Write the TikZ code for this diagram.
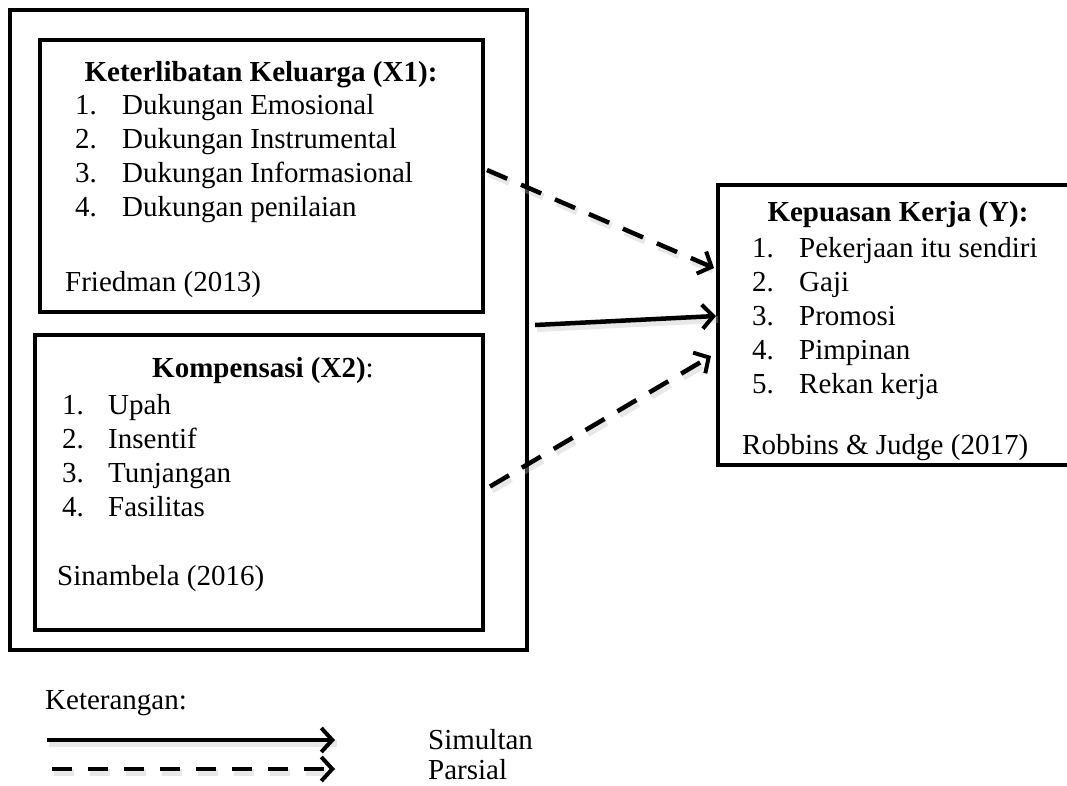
\documentclass[tikz,border=0pt]{standalone}
\usepackage{fontspec}
\setmainfont{Liberation Serif}
\usetikzlibrary{arrows.meta,calc}
\begin{document}
\begin{tikzpicture}[x=1pt,y=-1pt,
  box/.style={draw, line width=4pt, inner sep=0pt},
  txt/.style={inner sep=0pt, anchor=base west, font=\fontsize{29}{34}\selectfont},
  ttl/.style={inner sep=0pt, anchor=base, font=\fontsize{29}{34}\selectfont\bfseries},
  tip/.style={-{Straight Barb[length=11pt,width=24pt,line width=4pt]}},
  conn/.style={line width=4.5pt, tip},
  dashconn/.style={conn, dash pattern=on 22pt off 15pt},
  shadowline/.style={line width=7pt, draw=black!25, opacity=0.35}
]
\useasboundingbox (0,0) rectangle (1067,785);
\fill[white] (0,0) rectangle (1067,785);

% boxes
\node[box, minimum width=517pt, minimum height=640pt] (outer) at (268.5,330) {};
\node[box, minimum width=443pt, minimum height=272pt] (x1) at (261.5,176) {};
\node[box, minimum width=448pt, minimum height=295pt] (x2) at (259,482.5) {};
\node[box, minimum width=352pt, minimum height=280pt] (y) at (894,325) {};

% X1 text
\node[ttl] (x1t) at (261,81) {Keterlibatan Keluarga (X1):};
\foreach \t [count=\i] in {Dukungan Emosional, Dukungan Instrumental, Dukungan Informasional, Dukungan penilaian}{
  \node[txt] (x1n\i) at (75,{114+34.3*(\i-1)}) {\i.};
  \node[txt] (x1i\i) at (122,{114+34.3*(\i-1)}) {\t};
}
\node[txt] (x1s) at (65,291) {Friedman (2013)};

% X2 text
\node[ttl] (x2t) at (263,377) {Kompensasi (X2)\mdseries:};
\foreach \t [count=\i] in {Upah, Insentif, Tunjangan, Fasilitas}{
  \node[txt] (x2n\i) at (62,{414+34.3*(\i-1)}) {\i.};
  \node[txt] (x2i\i) at (108,{414+34.3*(\i-1)}) {\t};
}
\node[txt] (x2s) at (57,585) {Sinambela (2016)};

% Y text
\node[ttl] (yt) at (898,221) {Kepuasan Kerja (Y):};
\foreach \t [count=\i] in {Pekerjaan itu sendiri, Gaji, Promosi, Pimpinan, Rekan kerja}{
  \node[txt] (yn\i) at (752,{257+34.2*(\i-1)}) {\i.};
  \node[txt] (yi\i) at (799,{257+34.2*(\i-1)}) {\t};
}
\node[txt] (ys) at (742,454) {Robbins \& Judge (2017)};

% connector end points
\coordinate (a1s) at ($(x1.east)+(2,-6)$);
\coordinate (a1e) at ($(y.west)+(-2,-57)$);
\coordinate (a2s) at ($(outer.east)+(6,-5)$);
\coordinate (a2e) at ($(y.west)+(0,-9)$);
\coordinate (a3s) at ($(x2.east)+(5,4)$);
\coordinate (a3e) at ($(y.west)+(-5,31)$);

% shadows
\draw[shadowline, dash pattern=on 22pt off 15pt] ($(a1s)+(2,3.5)$) -- ($(a1e)+(2,3.5)$);
\draw[shadowline] ($(a2s)+(2,3.5)$) -- ($(a2e)+(2,3.5)$);
\draw[shadowline, dash pattern=on 22pt off 15pt] ($(a3s)+(2,3.5)$) -- ($(a3e)+(2,3.5)$);

% connectors
\draw[dashconn] (a1s) -- (a1e);
\draw[conn] (a2s) -- (a2e);
\draw[dashconn] (a3s) -- (a3e);

% legend
\node[txt] (ket) at (45,709) {Keterangan:};
\node[txt] (sim) at (428,749) {Simultan};
\node[txt] (par) at (428,779) {Parsial};
\coordinate (l1s) at (47,740);
\coordinate (l1e) at (335,740);
\coordinate (l2s) at (52,769);
\coordinate (l2e) at (335,769);
\draw[shadowline] ($(l1s)+(2,3.5)$) -- ($(l1e)+(2,3.5)$);
\draw[shadowline, dash pattern=on 20pt off 16pt] ($(l2s)+(2,3.5)$) -- ($(l2e)+(2,3.5)$);
\draw[conn] (l1s) -- (l1e);
\draw[conn, dash pattern=on 20pt off 16pt] (l2s) -- (l2e);
\end{tikzpicture}
\end{document}
